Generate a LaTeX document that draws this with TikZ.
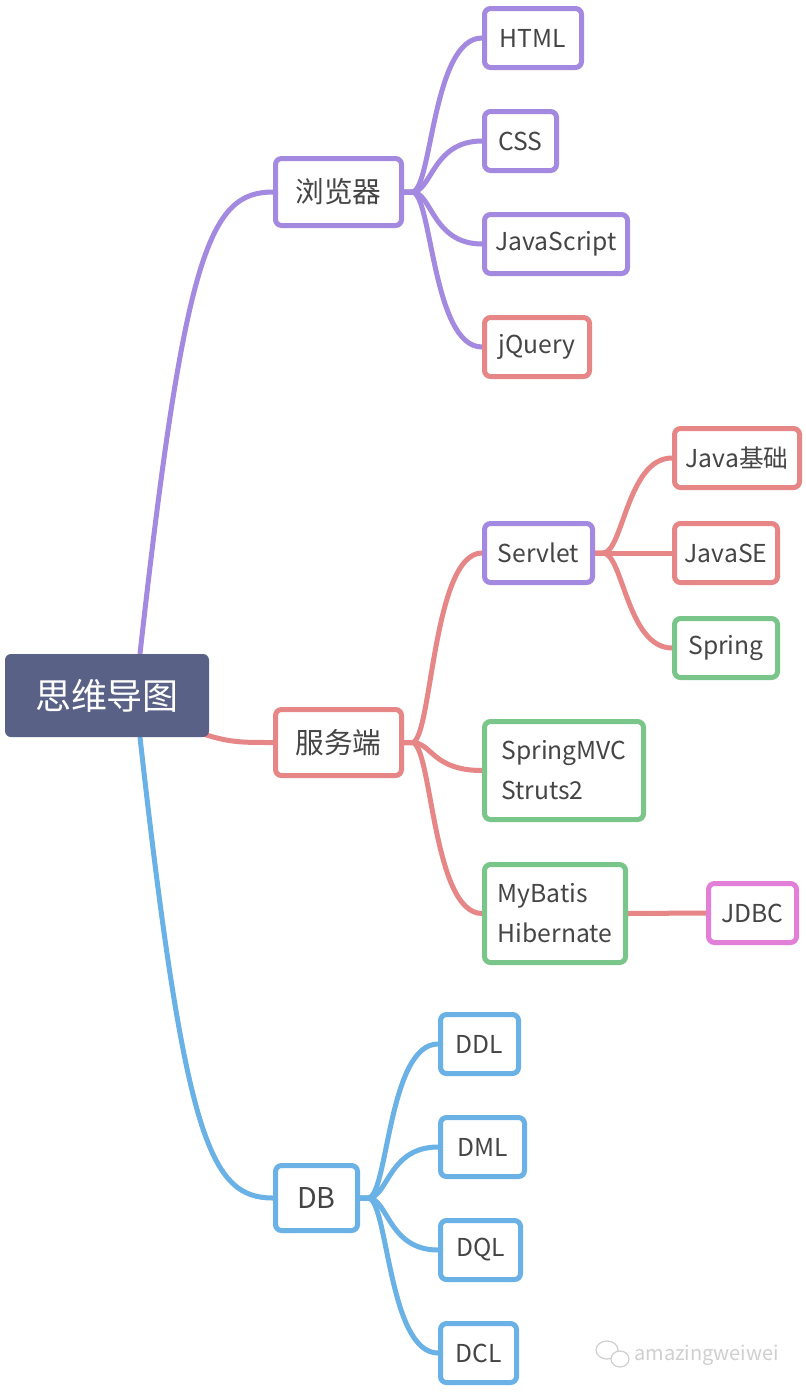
\documentclass[tikz,border=0pt]{standalone}
\usepackage{fontspec}
\setmainfont{Noto Sans CJK SC}
\usetikzlibrary{backgrounds}
\definecolor{cpur}{HTML}{A389DF}
\definecolor{cred}{HTML}{E68686}
\definecolor{cgrn}{HTML}{7AC58A}
\definecolor{cblu}{HTML}{6AB1E6}
\definecolor{cpnk}{HTML}{E27FD9}
\definecolor{croot}{HTML}{5A6187}
\definecolor{ctxt}{HTML}{454545}
\definecolor{cwm}{HTML}{CFCFCF}
\newcommand\bx[8][]{\node[box, draw=#7, minimum width=#5*0.75pt, minimum height=#6*0.75pt, #1] (#2) at (#3,#4) {#8};}
\begin{document}
\begin{tikzpicture}[x=0.75pt,y=-0.75pt,
  box/.style={line width=3.75pt, rounded corners=4.5pt, fill=white, text=ctxt, inner sep=0pt,
    font=\fontsize{18.5}{24}\selectfont},
  big/.style={font=\fontsize{21.5}{26}\selectfont},
  two/.style={align=left, font=\fontsize{18.5}{30}\selectfont},
  conn/.style={line width=3.75pt, line cap=round}]
\useasboundingbox (0,0) rectangle (806,1392);

\node[fill=croot, rounded corners=4.5pt, minimum width=204*0.75pt, minimum height=83*0.75pt,
  text=white, font=\fontsize{27}{30}\selectfont, inner sep=0pt] (root) at (107,695.5) {思维导图};
\bx[big]{brow}{338.5}{192}{126}{67}{cpur}{浏览器}
\bx{html}{533}{38}{97}{59}{cpur}{HTML}
\bx{css}{520.5}{141}{72}{59}{cpur}{CSS}
\bx{js}{556}{244}{143}{59}{cpur}{JavaScript}
\bx{jq}{537}{347}{105}{59}{cred}{jQuery}
\bx[big]{serv}{338.5}{742.5}{126}{66}{cred}{服务端}
\bx{servlet}{538.5}{553}{108}{59}{cpur}{Servlet}
\bx{jb}{737}{458}{125}{59}{cred}{Java基础}
\bx{jse}{726}{553}{103}{59}{cred}{JavaSE}
\bx{spring}{726}{648}{103}{59}{cgrn}{Spring}
\bx[two]{mvc}{564}{770.5}{159}{98}{cgrn}{SpringMVC\\Struts2}
\bx[two]{myb}{555}{913.5}{141}{98}{cgrn}{MyBatis\\Hibernate}
\bx{jdbc}{752.5}{913}{88}{59}{cpnk}{JDBC}
\bx[big]{db}{316.5}{1198}{82}{65}{cblu}{DB}
\bx{ddl}{479.5}{1044}{78}{59}{cblu}{DDL}
\bx{dml}{482.5}{1147}{84}{59}{cblu}{DML}
\bx{dql}{480.5}{1250}{80}{59}{cblu}{DQL}
\bx{dcl}{478.5}{1353}{76}{59}{cblu}{DCL}

\begin{scope}[on background layer]
\fill[white] (0,0) rectangle (806,1392);
\draw[conn, cpur] ([xshift=24.75pt]root.north) .. controls +(45,-404) and +(-63,0) .. (brow.west);
\draw[conn, cblu] ([xshift=24.75pt]root.south) .. controls +(45,403) and +(-63,0) .. (db.west);
\draw[conn, cred] ([xshift=-3pt,yshift=2pt]root.south east) .. controls +(25,8) and +(-30,0) .. (serv.west);
\foreach \c in {html,css,js,jq}
  \draw[conn, cpur] (brow.east) -- ++(8,0) .. controls +(20,0) and +(-50,0) .. (\c.west);
\foreach \c in {servlet,mvc,myb}
  \draw[conn, cred] (serv.east) -- ++(8,0) .. controls +(20,0) and +(-50,0) .. (\c.west);
\foreach \c in {jb,jse,spring}
  \draw[conn, cred] (servlet.east) -- ++(8,0) .. controls +(20,0) and +(-45,0) .. (\c.west);
\draw[conn, cred] (myb.east) -- (jdbc.west);
\foreach \c in {ddl,dml,dql,dcl}
  \draw[conn, cblu] (db.east) -- ++(8,0) .. controls +(20,0) and +(-50,0) .. (\c.west);
\end{scope}

% watermark
\draw[cwm, line width=0.9pt, fill=white] (607,1350) ellipse [x radius=11, y radius=9];
\draw[cwm, line width=0.9pt, fill=white] (620,1359) ellipse [x radius=9, y radius=8];
\node[text=cwm, font=\fontsize{15}{18}\selectfont, anchor=west, inner sep=0pt] (wm) at (634,1355) {amazingweiwei};
\end{tikzpicture}
\end{document}
